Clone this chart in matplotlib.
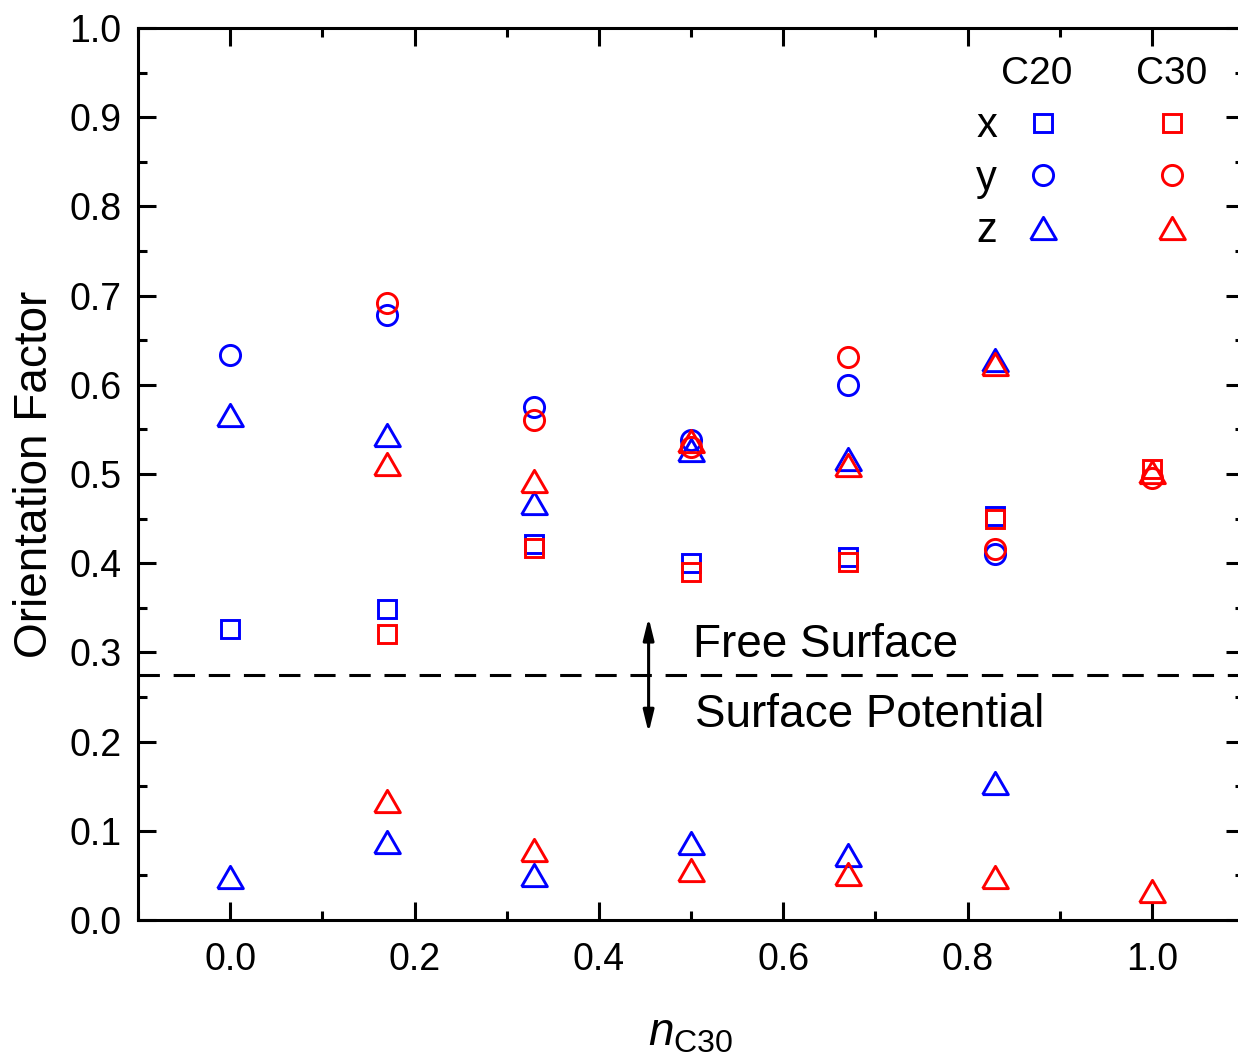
import numpy
import matplotlib.pyplot as pyplot

pyplot.rcParams["font.family"] = ["Liberation Sans", "DejaVu Sans"]
pyplot.rcParams["mathtext.fontset"] = "custom"
pyplot.rcParams["mathtext.it"] = "Liberation Sans:italic"
pyplot.rcParams["mathtext.rm"] = "Liberation Sans"

# composition values of the mixtures
nC20 = [0.0, 0.17, 0.33, 0.5, 0.67, 0.83]
nC30 = [0.17, 0.33, 0.5, 0.67, 0.83, 1.0]

# C20 (blue), free surface
c20X = [0.326, 0.349, 0.421, 0.400, 0.407, 0.453]
c20Y = [0.633, 0.678, 0.575, 0.538, 0.600, 0.410]
c20Z = [0.566, 0.544, 0.467, 0.527, 0.517, 0.628]
# C20 (blue), surface potential
c20ZPot = [0.048, 0.087, 0.050, 0.086, 0.073, 0.154]

# C30 (red), free surface
c30X = [0.321, 0.417, 0.390, 0.401, 0.450, 0.506]
c30Y = [0.692, 0.561, 0.530, 0.631, 0.416, 0.496]
c30Z = [0.511, 0.492, 0.537, 0.510, 0.623, 0.502]
# C30 (red), surface potential
c30ZPot = [0.133, 0.078, 0.056, 0.052, 0.048, 0.033]

dividerLevel = 0.275

blue = numpy.array([0, 0, 255]) / 255.0
red = numpy.array([255, 0, 0]) / 255.0

triangle = [(-1.0, -0.866), (1.0, -0.866), (0.0, 0.866), (-1.0, -0.866)]
markerStyle = {
    "s": {"marker": "s", "markersize": 13.5},
    "o": {"marker": "o", "markersize": 14.5},
    "^": {"marker": triangle, "markersize": 18.5},
}

figure = pyplot.figure(figsize=(12.38, 10.61), dpi=100)
axes = figure.add_axes([138 / 1238, 1 - 920 / 1061, 1106 / 1238, 892 / 1061])


def scatter(xs, ys, color, kind):
    line, = axes.plot(
        xs, ys, linestyle="none",
        markerfacecolor="none", markeredgecolor=color,
        markeredgewidth=2.1, **markerStyle[kind]
    )
    return line


hBlue = [scatter(nC20, c20X, blue, "s"),
         scatter(nC20, c20Y, blue, "o"),
         scatter(nC20, c20Z, blue, "^")]
scatter(nC20, c20ZPot, blue, "^")

hRed = [scatter(nC30, c30X, red, "s"),
        scatter(nC30, c30Y, red, "o"),
        scatter(nC30, c30Z, red, "^")]
scatter(nC30, c30ZPot, red, "^")

axes.axhline(dividerLevel, color="black", linewidth=2.2, linestyle=(0, (7, 4.5)))

axes.annotate(
    "", xy=(0.454, 0.339), xytext=(0.454, 0.210),
    arrowprops=dict(arrowstyle="<|-|>,head_length=1.3,head_width=0.32",
                    color="black", linewidth=2.2, shrinkA=0, shrinkB=0)
)
axes.text(0.502, 0.308, "Free Surface", fontsize=33, va="center", ha="left")
axes.text(0.504, 0.230, "Surface Potential", fontsize=33, va="center", ha="left")

axes.set_xlim(-0.1, 1.1)
axes.set_ylim(0.0, 1.0)
axes.set_xticks(numpy.arange(0.0, 1.01, 0.2))
axes.set_xticks(numpy.arange(-0.1, 1.11, 0.1), minor=True)
axes.set_yticks(numpy.arange(0.0, 1.01, 0.1))
axes.set_yticks(numpy.arange(0.05, 1.0, 0.1), minor=True)
axes.xaxis.set_major_formatter(pyplot.FormatStrFormatter("%.1f"))
axes.yaxis.set_major_formatter(pyplot.FormatStrFormatter("%.1f"))

for spine in axes.spines.values():
    spine.set_linewidth(2.2)
axes.tick_params(which="both", direction="in", top=True, right=True,
                 width=2.2, labelsize=27, pad=12)
axes.tick_params(axis="x", which="both", pad=16)
axes.tick_params(which="major", length=13)
axes.tick_params(which="minor", length=6.5)

axes.set_ylabel("Orientation Factor", fontsize=33, labelpad=9)
axes.set_xlabel(r"$n_{\mathrm{C30}}$", fontsize=33, labelpad=24)

legend = axes.legend(
    hBlue + hRed, ["x", "y", "z", "", "", ""],
    ncol=2, markerfirst=False, frameon=False, fontsize=30,
    handlelength=1.0, handletextpad=0.6, columnspacing=1.5,
    labelspacing=0.3, borderpad=0, borderaxespad=0,
    loc="upper left", bbox_to_anchor=(0.758, 0.912)
)
axes.text(0.875, 0.937, "C20", fontsize=28, ha="center", va="baseline")
axes.text(1.022, 0.937, "C30", fontsize=28, ha="center", va="baseline")

figure.savefig("out.png", dpi=100)
